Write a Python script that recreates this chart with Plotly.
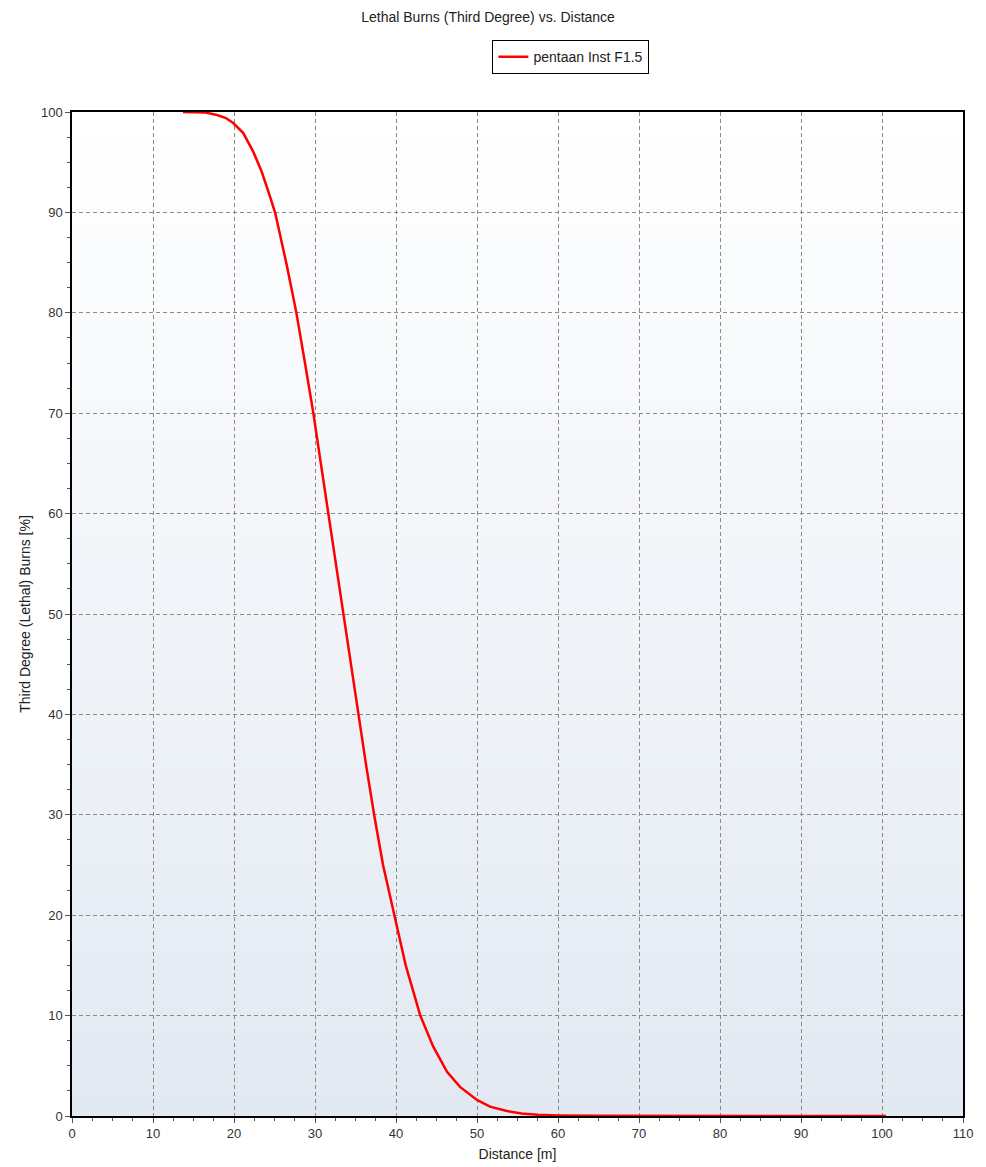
import plotly.graph_objects as go

# Distance from the release point [m] and lethal third-degree burn probability [%]
distance_m = [13.7, 15.0, 16.5, 17.9, 19.0, 19.9, 21.15, 22.4, 23.4, 24.4,
              25.1, 26.5, 27.7, 28.7, 29.8, 30.7, 31.65, 32.6, 33.5, 34.4,
              35.3, 36.3, 37.3, 38.4, 39.8, 41.2, 43.0, 44.6, 46.3, 47.9,
              50.0, 51.6, 53.7, 55.5, 57.5, 60.0, 65.0, 75.0, 85.0, 100.5]
burns_pct = [100.0, 100.0, 99.95, 99.7, 99.4, 98.9, 97.9, 96.0, 94.1, 91.7,
             89.9, 84.8, 80.0, 75.3, 70.0, 65.1, 60.0, 55.0, 50.0, 45.0,
             40.0, 35.0, 30.0, 25.0, 20.0, 15.0, 10.0, 6.9, 4.4, 2.9,
             1.6, 0.93, 0.5, 0.25, 0.12, 0.06, 0.02, 0.0, 0.0, 0.0]

series_name = "pentaan Inst F1.5"
x_ticks = list(range(0, 111, 10))
y_ticks = list(range(0, 101, 10))

fig = go.Figure()
fig.add_trace(go.Scatter(
    x=distance_m, y=burns_pct, mode="lines", name=series_name,
    line=dict(color="#ff0000", width=2.5),
))

# vertical white-to-pale-blue gradient behind the plot area
n_bands = 120
top = (255, 255, 255)
bot = (226, 233, 242)
shapes = []
for i in range(n_bands):
    t = i / (n_bands - 1)
    c = tuple(round(top[k] + (bot[k] - top[k]) * t) for k in range(3))
    y1 = 1 - i / n_bands
    y0 = 1 - (i + 1) / n_bands
    shapes.append(dict(type="rect", xref="x domain", yref="y domain",
                       x0=0, x1=1, y0=y0, y1=y1 + 0.002, layer="below",
                       line=dict(width=0), fillcolor="rgb(%d,%d,%d)" % c))

font_family = "Liberation Sans, Arial, sans-serif"
axis_common = dict(
    showline=True, linecolor="#000000", linewidth=1.5, mirror=True,
    ticks="outside", ticklen=5, tickcolor="#555555", tickwidth=1,
    showgrid=True, gridcolor="#8a8a8a", gridwidth=1, griddash="4px,3px",
    zeroline=False, tickfont=dict(size=13, color="#333333", family=font_family),
    minor=dict(ticks="outside", ticklen=3, tickcolor="#555555", showgrid=False),
)

fig.update_layout(
    width=986, height=1167,
    paper_bgcolor="#ffffff", plot_bgcolor="rgba(0,0,0,0)",
    margin=dict(l=72, r=23, t=112, b=51, autoexpand=False),
    title=dict(text="Lethal Burns (Third Degree) vs. Distance",
               x=0.495, xanchor="center", y=0.985, yanchor="middle",
               font=dict(size=14, color="#222222", family=font_family)),
    showlegend=True,
    legend=dict(x=0.579, xanchor="center", xref="container",
                y=0.951, yanchor="middle", yref="container",
                bgcolor="#ffffff", bordercolor="#000000",
                borderwidth=1, font=dict(size=14, color="#222222", family=font_family),
                itemwidth=30, tracegroupgap=0),
    shapes=shapes,
    font=dict(family=font_family),
)

fig.update_xaxes(range=[0, 110], tickvals=x_ticks, minor_dtick=2.5,
                 title=dict(text="Distance [m]", standoff=9,
                            font=dict(size=14, color="#222222", family=font_family)),
                 **axis_common)
fig.update_yaxes(range=[0, 100], tickvals=y_ticks, minor_dtick=2.5,
                 title=dict(text="Third Degree (Lethal) Burns [%]", standoff=7,
                            font=dict(size=14, color="#222222", family=font_family)),
                 **axis_common)

fig.write_html("out.html")
